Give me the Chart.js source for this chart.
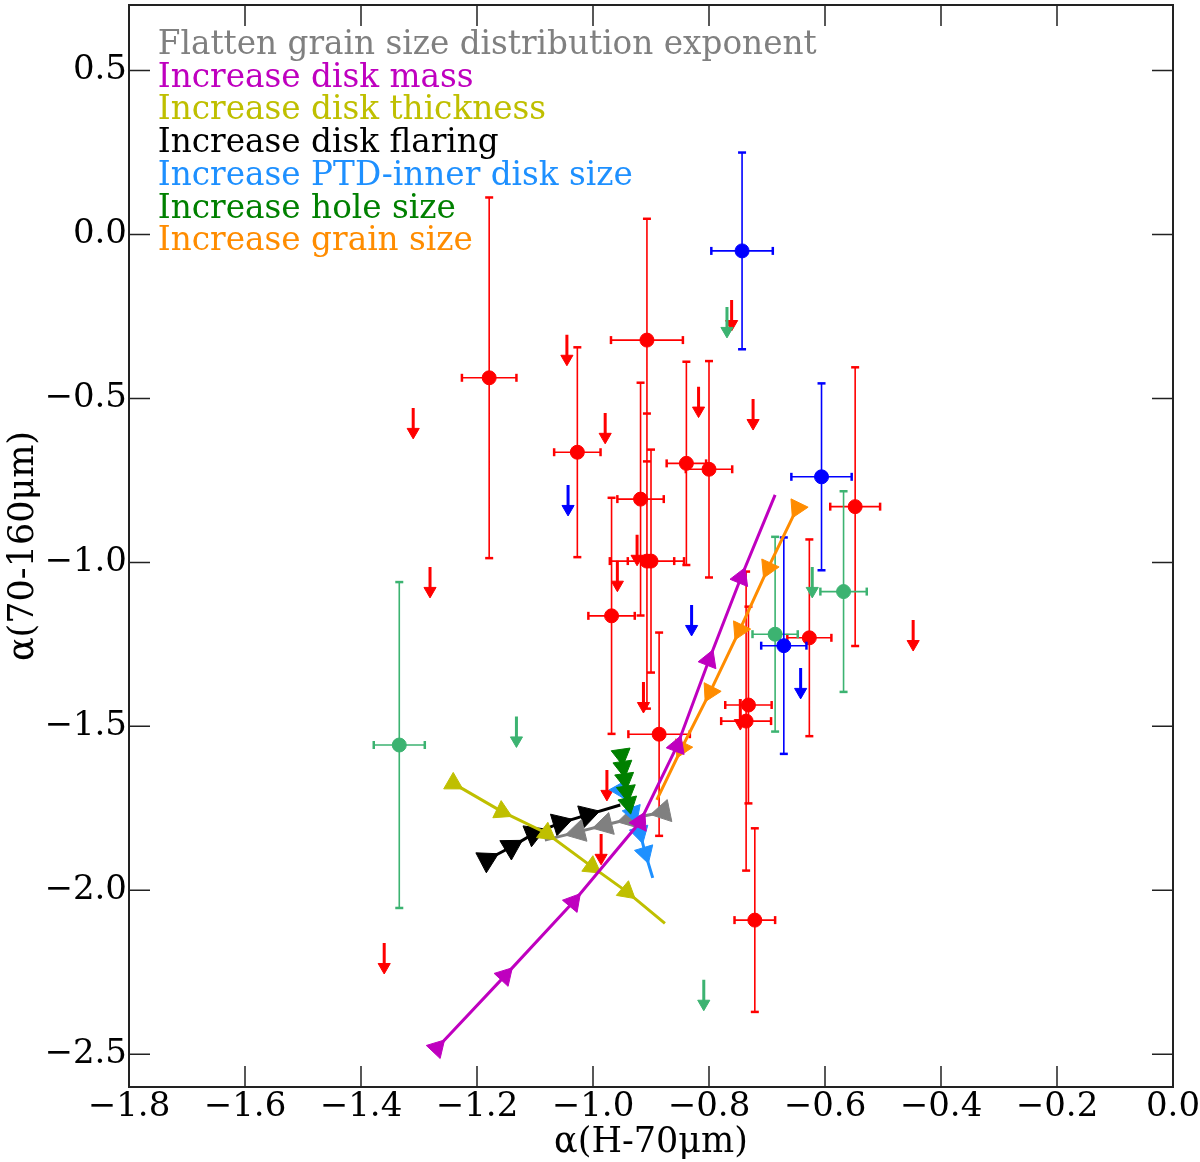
<!DOCTYPE html>
<html>
<head>
<meta charset="utf-8">
<script src="https://cdn.jsdelivr.net/npm/chart.js@4.4.1/dist/chart.umd.min.js"></script>
<style>
  html, body { margin: 0; padding: 0; background: #fff; }
  #wrap { width: 1200px; height: 1162px; }
</style>
</head>
<body>
<div id="wrap"><canvas id="myChart"></canvas></div>
<script>
// tick labels
const xTicks = [-1.8, -1.6, -1.4, -1.2, -1.0, -0.8, -0.6, -0.4, -0.2, 0.0];
const yTicks = [-2.5, -2.0, -1.5, -1.0, -0.5, 0.0, 0.5];

// red sources (detections with errors)
const redX    = [-1.179, -1.027, -0.907, -0.918, -0.907, -0.900, -0.968, -0.839, -0.800, -0.886, -0.548, -0.627, -0.732, -0.736, -0.721];
const redY    = [-0.437, -0.664, -0.322, -0.807, -0.996, -0.996, -1.163, -0.698, -0.716, -1.524, -0.830, -1.230, -1.435, -1.484, -2.091];
const redXerr = [0.047, 0.040, 0.062, 0.040, 0.064, 0.040, 0.040, 0.034, 0.040, 0.053, 0.043, 0.038, 0.040, 0.043, 0.035];
const redYerr = [0.55, 0.32, 0.37, 0.355, 0.45, 0.34, 0.36, 0.31, 0.33, 0.31, 0.425, 0.30, 0.30, 0.456, 0.28];
// red upper limits
const redLimX = [-1.045, -0.979, -0.818, -0.724, -0.761, -0.924, -0.958, -0.913, -1.310, -1.281, -0.448, -0.976, -0.986, -1.360, -0.746];
const redLimY = [-0.306, -0.544, -0.464, -0.502, -0.200, -0.916, -0.995, -1.365, -0.529, -1.014, -1.176, -1.633, -1.828, -2.161, -1.417];

// blue sources
const blueX    = [-0.743, -0.606, -0.671];
const blueY    = [-0.050, -0.739, -1.254];
const blueXerr = [0.053, 0.052, 0.039];
const blueYerr = [0.30, 0.285, 0.33];
const blueLimX = [-1.043, -0.830, -0.642];
const blueLimY = [-0.764, -1.130, -1.322];

// sea green sources
const sgX    = [-0.568, -0.686, -1.334];
const sgY    = [-1.089, -1.219, -1.557];
const sgXerr = [0.040, 0.039, 0.044];
const sgYerr = [0.306, 0.297, 0.497];
const sgLimX = [-0.769, -0.622, -1.132, -0.809];
const sgLimY = [-0.221, -1.014, -1.470, -2.273];

// model tracks
const flattenX   = [-0.879, -0.936, -0.979, -1.026, -1.083];
const flattenY   = [-1.761, -1.782, -1.801, -1.822, -1.847];
const massX      = [-1.269, -1.152, -1.034, -0.919, -0.855, -0.800, -0.745, -0.686];
const massY      = [-2.481, -2.261, -2.036, -1.792, -1.560, -1.298, -1.047, -0.794];
const thickX     = [-1.241, -1.157, -1.080, -1.002, -0.942, -0.876];
const thickY     = [-1.674, -1.760, -1.826, -1.928, -2.004, -2.101];
const flaringX   = [-1.183, -1.141, -1.103, -1.057, -1.010, -0.953];
const flaringY   = [-1.907, -1.868, -1.828, -1.795, -1.770, -1.740];
const ptdX       = [-0.953, -0.931, -0.919, -0.910, -0.897];
const ptdY       = [-1.694, -1.764, -1.825, -1.886, -1.962];
const holeX      = [-0.951, -0.948, -0.945, -0.942, -0.939, -0.936];
const holeY      = [-1.587, -1.624, -1.661, -1.699, -1.735, -1.760];
const grainX     = [-0.648, -0.698, -0.747, -0.798, -0.847, -0.890];
const grainY     = [-0.834, -1.017, -1.206, -1.395, -1.566, -1.724];

const legendNames = [
  'Flatten grain size distribution exponent',
  'Increase disk mass',
  'Increase disk thickness',
  'Increase disk flaring',
  'Increase PTD-inner disk size',
  'Increase hole size',
  'Increase grain size'
];
const legendColors = ['#808080', '#bf00bf', '#bfbf00', '#000000', '#1e90ff', '#008000', '#ff8c00'];

const SERIF = "'DejaVu Serif', 'Liberation Serif', serif";
const ARROW_SHAFT = 0.07;   // data units below the limit value
const ARROW_HEAD = 0.073;

function gap() { return {x: null, y: null}; }

function pts(xs, ys) {
  return xs.map((x, i) => ({x: x, y: ys[i]}));
}

function detectionGroup(color, xs, ys, xe, ye, lx, ly, order) {
  const bars = [], yCaps = [], xCaps = [];
  xs.forEach((x, i) => {
    bars.push({x: x, y: ys[i] - ye[i]}, {x: x, y: ys[i] + ye[i]}, gap());
    bars.push({x: x - xe[i], y: ys[i]}, {x: x + xe[i], y: ys[i]}, gap());
    yCaps.push({x: x, y: ys[i] - ye[i]}, {x: x, y: ys[i] + ye[i]});
    xCaps.push({x: x - xe[i], y: ys[i]}, {x: x + xe[i], y: ys[i]});
  });
  const shafts = [], heads = [];
  lx.forEach((x, i) => {
    shafts.push({x: x, y: ly[i]}, {x: x, y: ly[i] - ARROW_SHAFT}, gap());
    heads.push({x: x, y: ly[i] - ARROW_HEAD});
  });
  return [
    {data: bars, showLine: true, borderColor: color, borderWidth: 1.6, pointRadius: 0, order: order + 5},
    {data: yCaps, pointStyle: 'line', pointRadius: 4, pointRotation: 0, pointBorderColor: color, pointBorderWidth: 2.5, order: order + 4},
    {data: xCaps, pointStyle: 'line', pointRadius: 4, pointRotation: 90, pointBorderColor: color, pointBorderWidth: 2.5, order: order + 4},
    {data: pts(xs, ys), pointRadius: 7, pointBackgroundColor: color, pointBorderColor: color, pointBorderWidth: 1, order: order + 3},
    {data: shafts, showLine: true, borderColor: color, borderWidth: 3, pointRadius: 0, order: order + 2},
    {data: heads, pointStyle: 'triangle', pointRotation: 180, pointRadius: 7, pointBackgroundColor: color, pointBorderColor: color, pointBorderWidth: 1, order: order + 1}
  ];
}

function heading(ctx) {
  const d = ctx.dataset.data, i = ctx.dataIndex;
  if (i === undefined || d.length < 2) return 0;
  const k = Math.min(i, d.length - 2);
  const sx = ctx.chart.scales.x, sy = ctx.chart.scales.y;
  const dx = sx.getPixelForValue(d[k + 1].x) - sx.getPixelForValue(d[k].x);
  const dy = sy.getPixelForValue(d[k + 1].y) - sy.getPixelForValue(d[k].y);
  return Math.atan2(dx, -dy) * 180 / Math.PI;
}

function track(label, xs, ys, color, size, order) {
  return {
    label: label,
    data: pts(xs, ys),
    showLine: true,
    borderColor: color,
    borderWidth: 3,
    pointStyle: 'triangle',
    pointBackgroundColor: color,
    pointBorderColor: color,
    pointBorderWidth: 1,
    pointRadius: ctx => (ctx.dataIndex === ctx.dataset.data.length - 1 ? 0 : size),
    pointRotation: heading,
    order: order
  };
}

const datasets = [
  track(legendNames[1], massX, massY, legendColors[1], 11, 0),
  track(legendNames[2], thickX, thickY, legendColors[2], 11, 1),
  track(legendNames[5], holeX, holeY, legendColors[5], 11, 2),
  track(legendNames[4], ptdX, ptdY, legendColors[4], 11, 3),
  track(legendNames[0], flattenX, flattenY, legendColors[0], 13, 4),
  track(legendNames[3], flaringX, flaringY, legendColors[3], 13, 5),
  track(legendNames[6], grainX, grainY, legendColors[6], 11, 6)
].concat(
  detectionGroup('#0000ff', blueX, blueY, blueXerr, blueYerr, blueLimX, blueLimY, 10),
  detectionGroup('#3cb371', sgX, sgY, sgXerr, sgYerr, sgLimX, sgLimY, 20),
  detectionGroup('#ff0000', redX, redY, redXerr, redYerr, redLimX, redLimY, 30)
);

function fmt(v) {
  return Number(v).toFixed(1).replace('-', '\u2212');
}

// inward ticks on all four sides plus the frame
const frameTicks = {
  id: 'frameTicks',
  beforeDatasetsDraw(chart) {
    const {ctx, chartArea: a, scales: {x, y}} = chart;
    const L = 21;
    ctx.save();
    ctx.strokeStyle = '#222';
    ctx.lineWidth = 1.5;
    ctx.beginPath();
    x.ticks.forEach(t => {
      const px = x.getPixelForValue(t.value);
      ctx.moveTo(px, a.bottom); ctx.lineTo(px, a.bottom - L);
      ctx.moveTo(px, a.top); ctx.lineTo(px, a.top + L);
    });
    y.ticks.forEach(t => {
      const py = y.getPixelForValue(t.value);
      ctx.moveTo(a.left, py); ctx.lineTo(a.left + L, py);
      ctx.moveTo(a.right, py); ctx.lineTo(a.right - L, py);
    });
    ctx.stroke();
    ctx.lineWidth = 2;
    ctx.strokeRect(a.left, a.top, a.right - a.left, a.bottom - a.top);
    ctx.restore();
  }
};

new Chart(document.getElementById('myChart'), {
  type: 'scatter',
  data: {datasets: datasets},
  options: {
    responsive: true,
    maintainAspectRatio: false,
    animation: false,
    events: [],
    layout: {autoPadding: false, padding: {top: 5, right: 27, left: 0, bottom: 0}},
    plugins: {
      tooltip: {enabled: false},
      legend: {
        position: 'chartArea',
        align: 'start',
        onClick: null,
        title: {display: true, text: '', font: {size: 1}, padding: {top: 28, bottom: 0}},
        labels: {
          boxWidth: 12.5,
          boxHeight: 0,
          padding: 0,
          font: {family: SERIF, size: 32.7},
          generateLabels: () => legendNames.map((t, i) => ({
            text: t,
            fontColor: legendColors[i],
            fillStyle: 'rgba(0,0,0,0)',
            strokeStyle: 'rgba(0,0,0,0)',
            lineWidth: 0,
            hidden: false,
            datasetIndex: 0
          }))
        }
      }
    },
    scales: {
      x: {
        type: 'linear',
        min: -1.8,
        max: 0.0,
        afterBuildTicks: s => { s.ticks = xTicks.map(v => ({value: v})); },
        afterFit: s => { s.height = 75; s.paddingLeft = 0; s.paddingRight = 0; },
        grid: {display: false, drawTicks: false},
        border: {display: false},
        ticks: {padding: 0, color: '#000', autoSkip: false, maxRotation: 0, font: {family: SERIF, size: 34}, callback: v => fmt(v)},
        title: {display: true, text: 'α(H-70μm)', color: '#000', font: {family: SERIF, size: 35}, padding: {top: 0, bottom: -2}}
      },
      y: {
        type: 'linear',
        min: -2.6,
        max: 0.7,
        afterBuildTicks: s => { s.ticks = yTicks.map(v => ({value: v})); },
        afterFit: s => { s.width = 129; s.paddingTop = 0; s.paddingBottom = 0; },
        grid: {display: false, drawTicks: false},
        border: {display: false},
        ticks: {padding: 2, color: '#000', autoSkip: false, font: {family: SERIF, size: 34}, callback: v => fmt(v)},
        title: {display: true, text: 'α(70-160μm)', color: '#000', font: {family: SERIF, size: 35}, padding: {top: 3, bottom: 0}}
      }
    }
  },
  plugins: [frameTicks]
});
</script>
</body>
</html>
